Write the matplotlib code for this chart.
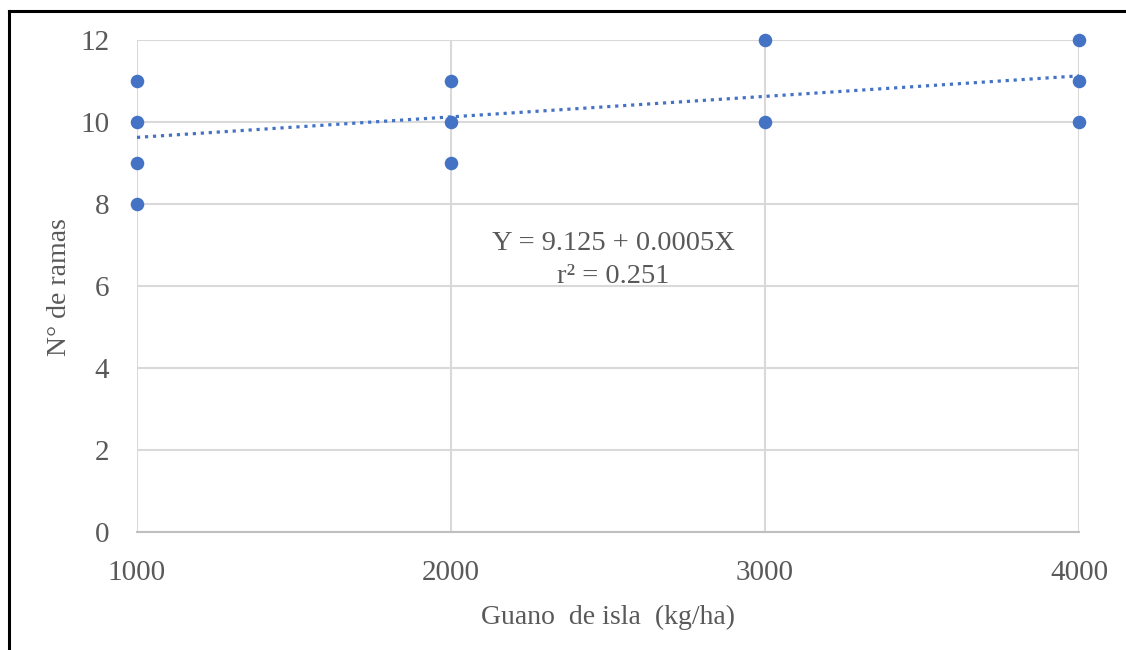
import matplotlib
matplotlib.use("Agg")
import matplotlib.pyplot as plt
from matplotlib.lines import Line2D
import numpy as np

# Data
x_vals = [1000, 1000, 1000, 1000, 2000, 2000, 2000, 3000, 3000, 4000, 4000, 4000]
y_vals = [11, 10, 9, 8, 11, 10, 9, 12, 10, 12, 11, 10]
x_ticks = [1000, 2000, 3000, 4000]
y_ticks = [0, 2, 4, 6, 8, 10, 12]
trend_intercept = 9.125
trend_slope = 0.0005
eq_text = "Y = 9.125 + 0.0005X\nr² = 0.251"
x_label = "Guano  de isla  (kg/ha)"
y_label = "N° de ramas"

blue = "#4472C4"
gray_txt = "#595959"
grid_c = "#D9D9D9"

plt.rcParams['font.family'] = ['Liberation Serif', 'DejaVu Serif']

fig = plt.figure(figsize=(11.26, 6.5), dpi=100)
W, H = 1126, 650
ax = fig.add_axes([137 / W, 1 - 532 / H, (1079 - 137) / W, (532 - 40) / H])

ax.set_xlim(1000, 4000)
ax.set_ylim(0, 12)
ax.set_xticks(x_ticks)
ax.set_yticks(y_ticks)
ax.grid(True, color=grid_c, linewidth=1.5)
ax.set_axisbelow(True)
for s in ["top", "right", "left"]:
    ax.spines[s].set_visible(False)
ax.spines["bottom"].set_color("#BFBFBF")
ax.spines["bottom"].set_linewidth(1.5)
ax.tick_params(length=0, labelsize=21, labelcolor=gray_txt)
ax.tick_params(axis="x", pad=20)
ax.tick_params(axis="y", pad=20)

# trendline
tx = np.array([1000, 4000])
ax.plot(tx, trend_intercept + trend_slope * tx, color=blue, linewidth=2.3,
        linestyle=(0, (1, 1.5)), zorder=2)
ax.scatter(x_vals, y_vals, s=95, color=blue, zorder=3, clip_on=False, linewidths=0)

ax.text(0.506, 0.553, eq_text, transform=ax.transAxes, ha="center", va="center",
        fontsize=20.5, color=gray_txt, linespacing=1.4)

ax.set_xlabel(x_label, fontsize=20, color=gray_txt, labelpad=14)
fig.text(60 / W, 1 - 287 / H, y_label, rotation=90, ha="center", va="center",
         fontsize=20, color=gray_txt)

# outer frame (left and top edges visible)
fig.add_artist(Line2D([8.5 / W, 8.5 / W], [0, 1 - 10.5 / H], transform=fig.transFigure,
                      color="black", linewidth=2.2))
fig.add_artist(Line2D([8.5 / W, 1.0], [1 - 10.5 / H, 1 - 10.5 / H], transform=fig.transFigure,
                      color="black", linewidth=2.2))

fig.savefig("out.png", dpi=100)
